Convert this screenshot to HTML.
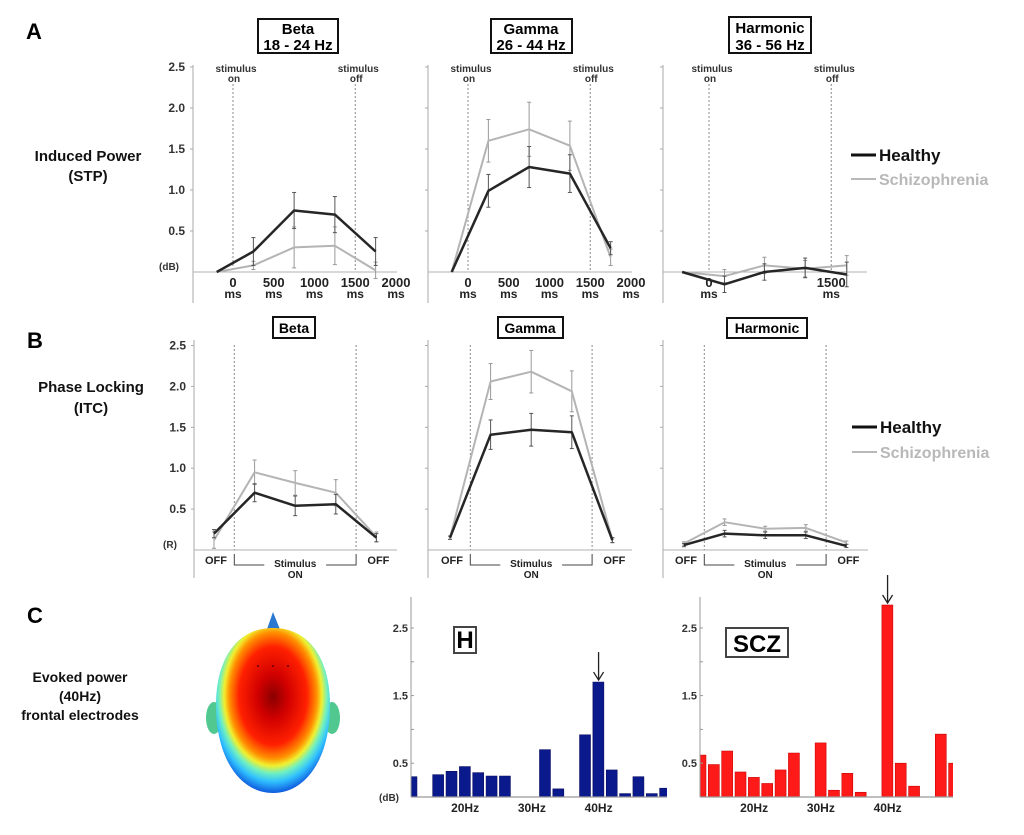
<!DOCTYPE html>
<html><head><meta charset="utf-8">
<style>
html,body{margin:0;padding:0;background:#fff;}
svg{display:block;font-family:"Liberation Sans",Arial,sans-serif;font-weight:bold;}
</style></head>
<body>
<svg id="fig" width="1024" height="835" viewBox="0 0 1024 835" xmlns="http://www.w3.org/2000/svg">
<defs>
<radialGradient id="headGrad" cx="0.5" cy="0.4" r="0.66" fx="0.5" fy="0.42">
<stop offset="0" stop-color="#8a0000"/>
<stop offset="0.2" stop-color="#d00000"/>
<stop offset="0.45" stop-color="#ff2000"/>
<stop offset="0.58" stop-color="#ff9000"/>
<stop offset="0.65" stop-color="#f0f030"/>
<stop offset="0.72" stop-color="#70f0c0"/>
<stop offset="0.8" stop-color="#30c0ff"/>
<stop offset="0.9" stop-color="#1060e0"/>
<stop offset="1" stop-color="#002090"/>
</radialGradient>
<clipPath id="clipH"><rect x="411" y="590" width="256" height="210"/></clipPath>
<clipPath id="clipS"><rect x="700" y="590" width="253" height="210"/></clipPath>
</defs>
<g id="static">
<text x="26" y="39" font-size="22">A</text>
<text x="27" y="348" font-size="22">B</text>
<text x="27" y="623" font-size="22">C</text>
<g font-size="15" text-anchor="middle" fill="#111">
<text x="88" y="161">Induced Power</text><text x="88" y="181">(STP)</text></g>
<g font-size="15" text-anchor="middle" fill="#111">
<text x="91" y="392">Phase Locking</text><text x="91" y="413">(ITC)</text></g>
<g font-size="14" text-anchor="middle" fill="#111">
<text x="80" y="682">Evoked power</text><text x="80" y="701">(40Hz)</text><text x="80" y="720">frontal electrodes</text></g>

<g><rect x="258" y="19" width="80" height="34" fill="#fff" stroke="#111" stroke-width="2"/>
<text x="298" y="34" font-size="15" text-anchor="middle">Beta</text><text x="298" y="50" font-size="15" text-anchor="middle">18 - 24 Hz</text></g>
<g><rect x="491" y="19" width="81" height="34" fill="#fff" stroke="#111" stroke-width="2"/>
<text x="531" y="34" font-size="15" text-anchor="middle">Gamma</text><text x="531" y="50" font-size="15" text-anchor="middle">26 - 44 Hz</text></g>
<g><rect x="729" y="17" width="82" height="36" fill="#fff" stroke="#111" stroke-width="2"/>
<text x="770" y="33" font-size="15" text-anchor="middle">Harmonic</text><text x="770" y="50" font-size="15" text-anchor="middle">36 - 56 Hz</text></g>
<g><rect x="273" y="317" width="42" height="21" fill="#fff" stroke="#111" stroke-width="2"/>
<text x="294" y="333" font-size="14" text-anchor="middle">Beta</text></g>
<g><rect x="498" y="317" width="65" height="21" fill="#fff" stroke="#111" stroke-width="2"/>
<text x="530" y="333" font-size="14" text-anchor="middle">Gamma</text></g>
<g><rect x="727" y="318" width="80" height="20" fill="#fff" stroke="#111" stroke-width="2"/>
<text x="767" y="333" font-size="14" text-anchor="middle">Harmonic</text></g>

<g>
<line x1="851" y1="155" x2="876" y2="155" stroke="#111" stroke-width="3"/><text x="879" y="161" font-size="17" fill="#111">Healthy</text>
<line x1="851" y1="179" x2="876" y2="179" stroke="#b8b8b8" stroke-width="2"/><text x="879" y="185" font-size="16" fill="#b8b8b8">Schizophrenia</text></g>
<g>
<line x1="852" y1="427" x2="877" y2="427" stroke="#111" stroke-width="3"/><text x="880" y="433" font-size="17" fill="#111">Healthy</text>
<line x1="852" y1="452" x2="877" y2="452" stroke="#b8b8b8" stroke-width="2"/><text x="880" y="458" font-size="16" fill="#b8b8b8">Schizophrenia</text></g>

<g>
<ellipse cx="214" cy="718" rx="8" ry="16" fill="#50c890"/>
<ellipse cx="332" cy="718" rx="8" ry="16" fill="#50c890"/>
<path d="M266,632 L273,612 L281,632 Z" fill="#2a78d0"/>
<path d="M273,628 C310,628 330,660 330,705 C330,760 305,793 273,793 C241,793 216,760 216,705 C216,660 236,628 273,628 Z" fill="url(#headGrad)"/>
<g fill="#600"><circle cx="258" cy="666" r="1"/><circle cx="273" cy="666" r="1"/><circle cx="288" cy="666" r="1"/></g>
</g>
</g>
<g id="dyn"></g>
</svg>
<script>
// ===== Row A: induced power (dB) =====
const aTicks = ["2.5","2.0","1.5","1.0","0.5"];
const aTickVals = [2.5,2.0,1.5,1.0,0.5];
const aXTicksFull = [0,500,1000,1500,2000];
const aXTicksHarm = [0,1500];
const betaA_ms = [-200,250,750,1250,1750];
const betaA_H = [0,0.25,0.75,0.70,0.25];
const betaA_Herr = [0,0.17,0.22,0.22,0.17];
const betaA_S = [0,0.08,0.30,0.32,0.02];
const betaA_Serr = [0,0.05,0.25,0.23,0.10];
const gammaA_ms = [-200,250,750,1250,1750];
const gammaA_H = [0,0.99,1.28,1.20,0.29];
const gammaA_Herr = [0,0.20,0.25,0.23,0.08];
const gammaA_S = [0,1.60,1.74,1.54,0.18];
const gammaA_Serr = [0,0.26,0.33,0.30,0.10];
const harmA_ms = [-330,190,680,1180,1690];
const harmA_H = [0,-0.15,0.0,0.05,-0.03];
const harmA_Herr = [0,0.10,0.10,0.12,0.15];
const harmA_S = [0,-0.05,0.08,0.04,0.08];
const harmA_Serr = [0,0.08,0.10,0.10,0.12];
// ===== Row B: phase locking (R) =====
const bCats = ["OFF","ON1","ON2","ON3","OFF"];
const betaB_H = [0.20,0.70,0.54,0.56,0.15];
const betaB_Herr = [0.05,0.11,0.12,0.12,0.05];
const betaB_S = [0.12,0.95,0.82,0.70,0.16];
const betaB_Serr = [0.10,0.15,0.15,0.16,0.06];
const gammaB_H = [0.15,1.41,1.47,1.44,0.12];
const gammaB_Herr = [0.02,0.18,0.20,0.20,0.03];
const gammaB_S = [0.15,2.06,2.18,1.94,0.12];
const gammaB_Serr = [0.02,0.22,0.26,0.25,0.03];
const harmB_H = [0.06,0.20,0.18,0.18,0.05];
const harmB_Herr = [0.02,0.04,0.04,0.04,0.02];
const harmB_S = [0.08,0.34,0.26,0.27,0.09];
const harmB_Serr = [0.02,0.04,0.03,0.04,0.02];
// ===== Row C: evoked power spectra =====
const cFreqs = [12,14,16,18,20,22,24,26,28,30,32,34,36,38,40,42,44,46,48,50];
const cH = [0.30,0,0.33,0.38,0.45,0.36,0.31,0.31,0,0,0.70,0.12,0,0.92,1.70,0.40,0.05,0.30,0.05,0.13];
const cS = [0.62,0.48,0.68,0.37,0.29,0.20,0.40,0.65,0,0.80,0.10,0.35,0.07,0,2.84,0.50,0.16,0,0.93,0.50];
const cTickLabels = ["2.5","1.5","0.5"];
const cTickVals = [2.5,1.5,0.5];
const cXLabels = ["20Hz","30Hz","40Hz"];
const cXLabelFreqs = [20,30,40];

const NS = "http://www.w3.org/2000/svg";
const root = document.getElementById('dyn');
function mk(tag, attrs, parent, txt){
  const e = document.createElementNS(NS, tag);
  for (const k in attrs) e.setAttribute(k, attrs[k]);
  if (txt !== undefined) e.textContent = txt;
  (parent||root).appendChild(e);
  return e;
}
const HC = "#262626", SC = "#b4b4b4";

function series(g, xs, vals, errs, color, w, name){
  const eg = mk('g', {}, g);
  
  
  xs.forEach((x,i)=>{
    if (!errs[i]) return;
    const y1 = g._y(vals[i]+errs[i]), y2 = g._y(vals[i]-errs[i]);
    const c = color==HC?"#555":"#999";
    mk('line',{x1:x,x2:x,y1:y1,y2:y2,stroke:c,"stroke-width":1},eg);
    mk('line',{x1:x-2,x2:x+2,y1:y1,y2:y1,stroke:c,"stroke-width":1},eg);
    mk('line',{x1:x-2,x2:x+2,y1:y2,y2:y2,stroke:c,"stroke-width":1},eg);
  });
  const pts = xs.map((x,i)=> x.toFixed(1)+','+g._y(vals[i]).toFixed(1)).join(' ');
  const pl = mk('polyline',{points:pts,fill:'none',stroke:color,'stroke-width':w,'stroke-linejoin':'round'},g);
  
  
}

function axisFrame(g, ax, top, bottom, y0, xEnd, withLabels, ticksVals, ticksTxt, unit, yfn){
  mk('line',{x1:ax,x2:ax,y1:top,y2:bottom,stroke:'#aaa','stroke-width':1},g);
  mk('line',{x1:ax,x2:xEnd,y1:y0,y2:y0,stroke:'#b0b0b0','stroke-width':1},g);
  ticksVals.forEach((v,i)=>{
    const y = yfn(v);
    mk('line',{x1:ax-3,x2:ax,y1:y,y2:y,stroke:'#aaa','stroke-width':1},g);
    if (withLabels){
      const t = mk('text',{x:ax-8,y:y+4,'font-size':12,'text-anchor':'end',fill:'#333'},g,ticksTxt[i]);
      
      
    }
  });
  if (withLabels){
    const u = mk('text',{x:ax-24,y:y0-2,'font-size':10,'text-anchor':'middle',fill:'#333'},g,unit);
    
    
  }
}

const A_Y0 = 272, A_PX = 82, A_MSPX = 0.0815;
const aY = v => A_Y0 - v*A_PX;
function panelA(name, ax, ms0, xEnd, withLabels, xt, ms, H, He, S, Se){
  const g = mk('g',{});
  
  
  g._y = aY;
  const xf = m => ms0 + m*A_MSPX;
  axisFrame(g, ax, 65, 303, A_Y0, xEnd, withLabels, aTickVals, aTicks, '(dB)', aY);
  [[0,'on'],[1500,'off']].forEach(([m,lab])=>{
    const x = xf(m);
    mk('line',{x1:x,x2:x,y1:84,y2:A_Y0,stroke:'#888','stroke-width':1,'stroke-dasharray':'2,2'},g);
    const t1 = mk('text',{x:x+3,y:72,'font-size':10,'text-anchor':'middle',fill:'#333'},g,'stimulus');
    
    
    mk('text',{x:x+1,y:82,'font-size':10,'text-anchor':'middle',fill:'#333'},g,lab);
  });
  xt.forEach(m=>{
    const x = xf(m);
    const t = mk('text',{x:x,y:287,'font-size':13,'text-anchor':'middle',fill:'#222'},g,String(m));
    
    
    mk('text',{x:x,y:298,'font-size':12,'text-anchor':'middle',fill:'#222'},g,'ms');
  });
  const xs = ms.map(xf);
  series(g, xs, S, Se, SC, 2, name+'-schizophrenia');
  series(g, xs, H, He, HC, 2.5, name+'-healthy');
}
panelA('beta-induced-panel',193,233,397,true,aXTicksFull,betaA_ms,betaA_H,betaA_Herr,betaA_S,betaA_Serr);
panelA('gamma-induced-panel',428,468,632,false,aXTicksFull,gammaA_ms,gammaA_H,gammaA_Herr,gammaA_S,gammaA_Serr);
panelA('harmonic-induced-panel',663,709,867,false,aXTicksHarm,harmA_ms,harmA_H,harmA_Herr,harmA_S,harmA_Serr);

const B_Y0 = 550, B_PX = 81.8, B_STEP = 40.6;
const bY = v => B_Y0 - v*B_PX;
function panelB(name, ax, x0, xEnd, withLabels, H, He, S, Se){
  const g = mk('g',{});
  
  
  g._y = bY;
  const xf = i => x0 + i*B_STEP;
  axisFrame(g, ax, 340, 578, B_Y0, xEnd, withLabels, aTickVals, aTicks, '(R)', bY);
  const d1 = xf(0.5), d2 = xf(3.5);
  [d1,d2].forEach(x=> mk('line',{x1:x,x2:x,y1:345,y2:B_Y0,stroke:'#888','stroke-width':1,'stroke-dasharray':'2,2'},g));
  const lab = mk('g',{},g);
  
  
  mk('text',{x:xf(0)+2,y:564,'font-size':11,'text-anchor':'middle',fill:'#222'},lab,'OFF');
  mk('text',{x:xf(4)+2,y:564,'font-size':11,'text-anchor':'middle',fill:'#222'},lab,'OFF');
  const mid = (d1+d2)/2;
  mk('text',{x:mid,y:567,'font-size':10,'text-anchor':'middle',fill:'#222'},lab,'Stimulus');
  mk('text',{x:mid,y:578,'font-size':10,'text-anchor':'middle',fill:'#222'},lab,'ON');
  mk('polyline',{points:`${d1},554 ${d1},565 ${d1+30},565`,fill:'none',stroke:'#444','stroke-width':1},lab);
  mk('polyline',{points:`${d2-30},565 ${d2},565 ${d2},554`,fill:'none',stroke:'#444','stroke-width':1},lab);
  const xs = bCats.map((c,i)=>xf(i));
  series(g, xs, S, Se, SC, 2, name+'-schizophrenia');
  series(g, xs, H, He, HC, 2.5, name+'-healthy');
}
panelB('beta-itc-panel',194,214,397,true,betaB_H,betaB_Herr,betaB_S,betaB_Serr);
panelB('gamma-itc-panel',428,450,632,false,gammaB_H,gammaB_Herr,gammaB_S,gammaB_Serr);
panelB('harmonic-itc-panel',663,684,868,false,harmB_H,harmB_Herr,harmB_S,harmB_Serr);

const C_Y0 = 797, C_PX = 67.6, SLOT = 13.35;
const cY = v => C_Y0 - v*C_PX;
function barChart(name, ax, slot0, xEnd, vals, color, clip, box){
  const g = mk('g',{});
  
  
  const slotX = f => slot0 + ((f-12)/2)*SLOT;
  const bars = mk('g',{'clip-path':'url(#'+clip+')'},g);
  vals.forEach((v,i)=>{
    if (v<=0) return;
    const x = slotX(cFreqs[i]) + 1;
    const r = mk('rect',{x:x,y:cY(v),width:SLOT-2.4,height:v*C_PX,fill:color,stroke:color=='#ff1a1a'?'#c00':'#0a0a60','stroke-width':0.6},bars);
    
    
  });
  mk('line',{x1:ax,x2:ax,y1:597,y2:C_Y0,stroke:'#999','stroke-width':1},g);
  mk('line',{x1:ax,x2:xEnd,y1:C_Y0,y2:C_Y0,stroke:'#999','stroke-width':1.2},g);
  [2.5,2.0,1.5,1.0,0.5].forEach(v=> mk('line',{x1:ax,x2:ax+3,y1:cY(v),y2:cY(v),stroke:'#999','stroke-width':1},g));
  cTickVals.forEach((v,i)=>{
    const t = mk('text',{x:ax-3,y:cY(v)+4,'font-size':11,'text-anchor':'end',fill:'#333'},g,cTickLabels[i]);
    
    
  });
  cXLabelFreqs.forEach((f,i)=>{
    const t = mk('text',{x:slotX(f)+SLOT/2,y:812,'font-size':12,'text-anchor':'middle',fill:'#222'},g,cXLabels[i]);
    
    
  });
  const i40 = cFreqs.indexOf(40);
  const axX = slotX(40)+SLOT/2, top = cY(vals[i40]) - 2;
  const ar = mk('g',{stroke:'#222','stroke-width':1.3,fill:'none'},g);
  
  
  mk('line',{x1:axX,x2:axX,y1:top-28,y2:top},ar);
  mk('polyline',{points:`${axX-5},${top-8} ${axX},${top} ${axX+5},${top-8}`},ar);
  const bx = mk('g',{},g);
  
  
  mk('rect',{x:box.x,y:box.y,width:box.w,height:box.h,fill:'#fff',stroke:'#444','stroke-width':2},bx);
  mk('text',{x:box.x+box.w/2,y:box.y+box.h-5,'font-size':24,'text-anchor':'middle',fill:'#000'},bx,box.t);
}
barChart('healthy-spectrum-chart',411,405,667,cH,'#0a1a8c','clipH',{x:454,y:627,w:22,h:26,t:'H'});
barChart('scz-spectrum-chart',700,694,953,cS,'#ff1a1a','clipS',{x:726,y:628,w:62,h:29,t:'SCZ'});
const dbl = mk('text',{x:389,y:801,'font-size':10,'text-anchor':'middle',fill:'#333'},root,'(dB)');


</script>
</body></html>
